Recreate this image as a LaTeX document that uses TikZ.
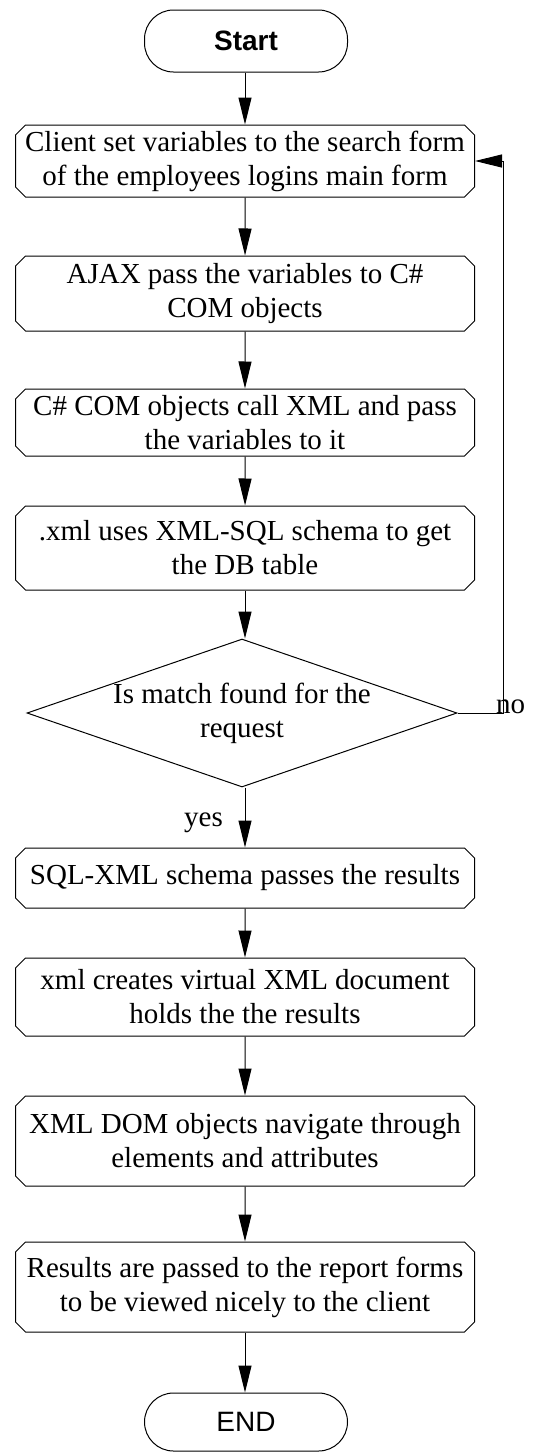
\documentclass[tikz,border=0pt]{standalone}
\usepackage{fontspec}
\setmainfont{Liberation Serif}
\newfontfamily\arialfont{Liberation Sans}
\usetikzlibrary{shapes.misc,shapes.geometric,arrows.meta}
\begin{document}
\begin{tikzpicture}[x=1pt,y=-1pt,
 procbox/.style={chamfered rectangle, chamfered rectangle xsep=5pt, chamfered rectangle ysep=5pt, draw, line width=1pt, minimum width=459pt, inner xsep=0pt, inner ysep=0pt, align=center, font=\fontsize{29}{34}\selectfont},
 term/.style={rectangle, rounded corners=29pt, draw, line width=1pt, minimum width=203pt, inner sep=0pt},
 decision/.style={diamond, draw, line width=1pt, minimum width=430pt, minimum height=148pt, inner sep=0pt},
 flow/.style={line width=1pt, -{Triangle[length=27pt,width=13pt]}},
 lbl/.style={font=\fontsize{29}{34}\selectfont, inner sep=0pt}
]
\useasboundingbox[fill=white] (0,0) rectangle (556,1452);

\node[term, minimum height=62pt, font=\arialfont\bfseries\fontsize{28}{34}\selectfont] (start) at (246,41) {Start};
\node[procbox, minimum height=72pt] (b1) at (245,161) {Client set variables to the search form\\of the employees logins main form};
\node[procbox, minimum height=75pt] (b2) at (245,293.5) {AJAX pass the variables to C\#\\COM objects};
\node[procbox, minimum height=67pt] (b3) at (245,422.5) {C\# COM objects call XML and pass\\the variables to it};
\node[procbox, minimum height=84pt] (b4) at (245,548) {.xml uses XML-SQL schema to get\\the DB table};
\node[decision] (d) at (242,713) {};
\node[lbl, align=center] (dt) at (d.center) {Is match found for the\\request};
\node[procbox, minimum height=60pt] (b5) at (245,878) {SQL-XML schema passes the results};
\node[procbox, minimum height=78pt] (b6) at (245,997) {xml creates virtual XML document\\holds the the results};
\node[procbox, minimum height=90pt] (b7) at (245,1141) {XML DOM objects navigate through\\elements and attributes};
\node[procbox, minimum height=90pt] (b8) at (245,1287) {Results are passed to the report forms\\to be viewed nicely to the client};
\node[term, minimum height=58pt, font=\arialfont\fontsize{28}{34}\selectfont] (end) at (246,1422) {END};

\node[lbl, anchor=base west] (no) at (496,713) {no};
\node[lbl, anchor=base west] (yes) at (184,826) {yes};
\coordinate (c1) at (503,713);
\coordinate (c2) at (503,161);

\draw[flow] (start.south -| b1.north) -- (b1.north);
\draw[flow] (b1) -- (b2);
\draw[flow] (b2) -- (b3);
\draw[flow] (b3) -- (b4);
\draw[flow] (b4.south) -- (b4.south |- d.north);
\draw[flow] (b5.north |- d.south) -- (b5.north);
\draw[flow] (b5) -- (b6);
\draw[flow] (b6) -- (b7);
\draw[flow] (b7) -- (b8);
\draw[flow] (b8.south) -- (b8.south |- end.north);
\draw[flow] (d.east) -- (c1) -- (c2) -- (b1.east);
\end{tikzpicture}
\end{document}
